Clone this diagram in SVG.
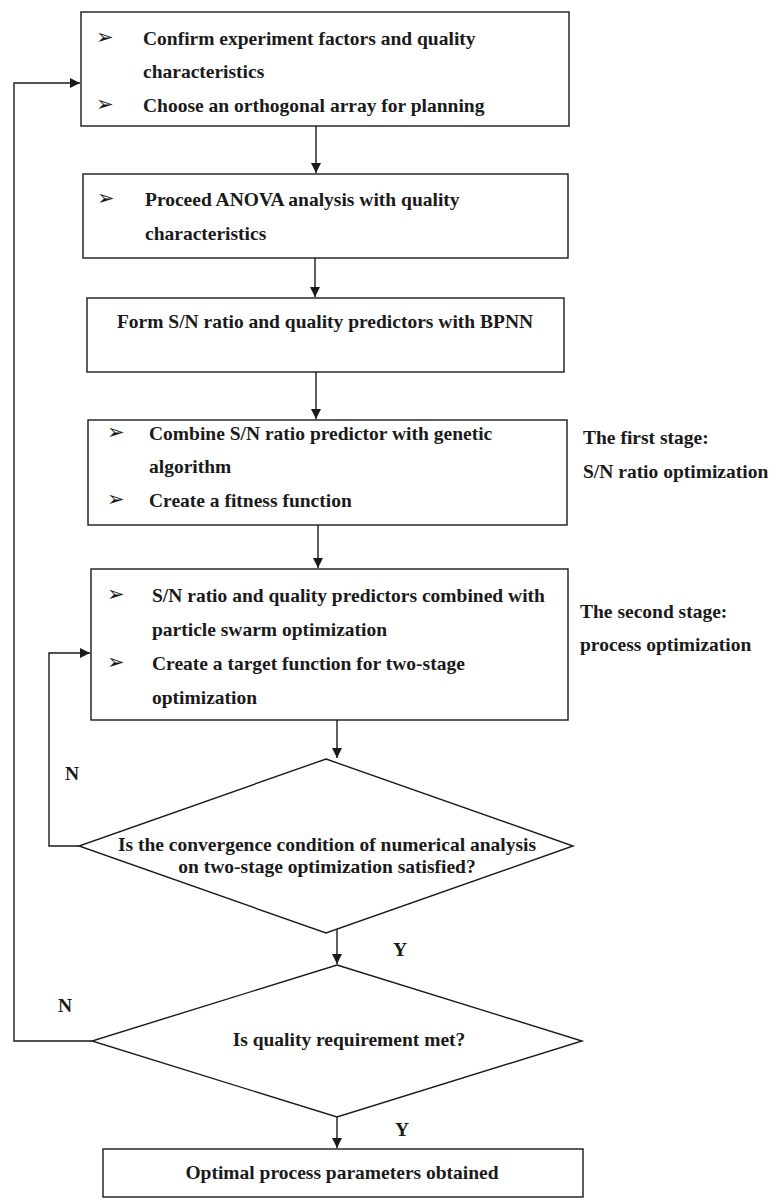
<svg xmlns="http://www.w3.org/2000/svg" width="776" height="1200" viewBox="0 0 776 1200">
<defs>
<marker id="ah" viewBox="0 0 10 10" refX="10" refY="5" markerWidth="10" markerHeight="11" markerUnits="userSpaceOnUse" orient="auto">
<path d="M0,0 L10,5 L0,10 z" fill="#1a1a1a"/>
</marker>
<style>
.box{fill:#fff;stroke:#1a1a1a;stroke-width:1.4}
.t{font-family:"Liberation Serif","Times New Roman",serif;font-weight:bold;font-size:19.5px;fill:#1a1a1a}
.c{text-anchor:middle}
.b{font-family:"DejaVu Sans",sans-serif;font-size:21px;fill:#1a1a1a}
.ln{fill:none;stroke:#1a1a1a;stroke-width:1.4}
</style>
</defs>
<rect width="776" height="1200" fill="#fff"/>
<g id="connectors">
<path class="ln" d="M316,126 V173" marker-end="url(#ah)"/>
<path class="ln" d="M315,258 V297" marker-end="url(#ah)"/>
<path class="ln" d="M316,372 V419" marker-end="url(#ah)"/>
<path class="ln" d="M318,525 V568" marker-end="url(#ah)"/>
<path class="ln" d="M337,720 V758" marker-end="url(#ah)"/>
<path class="ln" d="M337,929 V964" marker-end="url(#ah)"/>
<path class="ln" d="M337,1117 V1148" marker-end="url(#ah)"/>
<path class="ln" d="M79,846 H49 V653 H90" marker-end="url(#ah)"/>
<path class="ln" d="M92,1041 H14 V83 H80" marker-end="url(#ah)"/>
<text class="t" x="65" y="780">N</text>
<text class="t" x="58" y="1012">N</text>
<text class="t" x="393" y="956">Y</text>
<text class="t" x="395" y="1136">Y</text>
</g>
<g id="n1">
<rect class="box" x="81" y="12" width="488" height="114"/>
<text class="b" x="96" y="44">➢</text>
<text class="t" x="143" y="45">Confirm experiment factors and quality</text>
<text class="t" x="143" y="78">characteristics</text>
<text class="b" x="96" y="111">➢</text>
<text class="t" x="143" y="112">Choose an orthogonal array for planning</text>
</g>
<g id="n2">
<rect class="box" x="83" y="174" width="485" height="84"/>
<text class="b" x="97" y="205">➢</text>
<text class="t" x="145" y="206">Proceed ANOVA analysis with quality</text>
<text class="t" x="145" y="240">characteristics</text>
</g>
<g id="n3">
<rect class="box" x="87" y="298" width="477" height="74"/>
<text class="t c" x="325" y="328">Form S/N ratio and quality predictors with BPNN</text>
</g>
<g id="n4">
<rect class="box" x="88" y="420" width="479" height="105"/>
<text class="b" x="107" y="439">➢</text>
<text class="t" x="149" y="440">Combine S/N ratio predictor with genetic</text>
<text class="t" x="149" y="473">algorithm</text>
<text class="b" x="107" y="506">➢</text>
<text class="t" x="149" y="507">Create a fitness function</text>
</g>
<g id="stage1">
<text class="t" x="583" y="444">The first stage:</text>
<text class="t" x="583" y="478">S/N ratio optimization</text>
</g>
<g id="n5">
<rect class="box" x="91" y="569" width="477" height="151"/>
<text class="b" x="107" y="601">➢</text>
<text class="t" x="152" y="602">S/N ratio and quality predictors combined with</text>
<text class="t" x="152" y="636">particle swarm optimization</text>
<text class="b" x="107" y="669">➢</text>
<text class="t" x="152" y="670">Create a target function for two-stage</text>
<text class="t" x="152" y="704">optimization</text>
</g>
<g id="stage2">
<text class="t" x="580" y="618">The second stage:</text>
<text class="t" x="580" y="651">process optimization</text>
</g>
<g id="d1">
<polygon class="box" points="326,759 573,846 326,933 79,846"/>
<text class="t c" x="327" y="851">Is the convergence condition of numerical analysis</text>
<text class="t c" x="327" y="873">on two-stage optimization satisfied?</text>
</g>
<g id="d2">
<polygon class="box" points="337,965 582,1041 337,1117 92,1041"/>
<text class="t c" x="349" y="1046">Is quality requirement met?</text>
</g>
<g id="n6">
<rect class="box" x="103" y="1149" width="480" height="48"/>
<text class="t c" x="342" y="1179">Optimal process parameters obtained</text>
</g>
</svg>
